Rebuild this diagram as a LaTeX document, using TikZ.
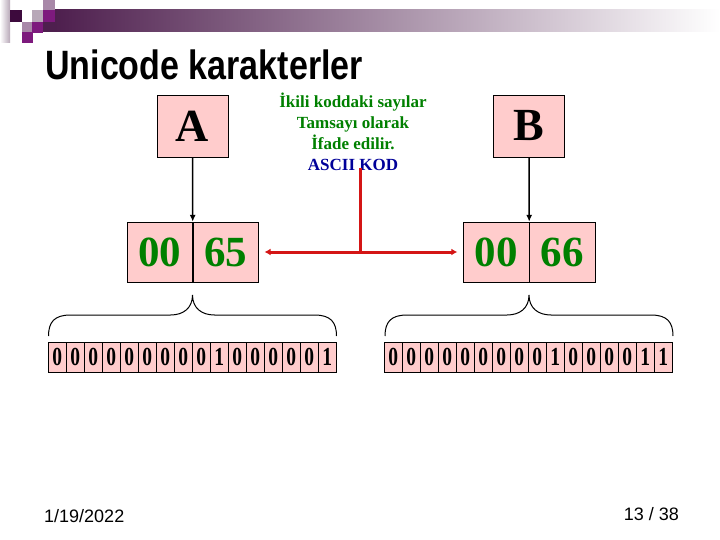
\documentclass[tikz,border=0pt]{standalone}
\usepackage{fontspec}
\setmainfont{Liberation Serif}
\newfontfamily\slidefont{Liberation Sans}
\usetikzlibrary{arrows.meta, positioning}
\definecolor{charfill}{HTML}{FFCCCC}
\definecolor{codegreen}{HTML}{008000}
\definecolor{codeblue}{HTML}{000099}
\definecolor{pointerred}{HTML}{D41515}
\definecolor{bardark}{HTML}{4E1F4E}
\definecolor{squaredark}{HTML}{3D0A3D}
\definecolor{squaremagenta}{HTML}{7D1A7D}
\definecolor{squaremauve}{HTML}{A888A8}
\definecolor{squaregrey}{HTML}{B8A8B8}

\begin{document}
\begin{tikzpicture}[
        x=1pt, y=-1pt,
        charbox/.style={
            draw,
            fill=charfill,
            minimum width=71pt,
            minimum height=62pt,
            inner sep=0pt,
            font=\fontsize{46}{46}\selectfont\bfseries
        },
        halfbox/.style={
            draw,
            fill=charfill,
            minimum width=65.5pt,
            minimum height=60pt,
            inner sep=0pt,
            text=codegreen,
            font=\fontsize{43}{43}\selectfont\bfseries
        },
        bitcell/.style={
            draw,
            fill=charfill,
            minimum width=18pt,
            minimum height=30pt,
            inner sep=0pt,
            font=\fontsize{26}{26}\selectfont\bfseries
        },
        pointer/.style={
            -{Latex[length=7pt, width=6pt]},
            line width=1.5pt
        },
        redline/.style={
            draw=pointerred,
            line width=3pt
        },
        redarrow/.style={
            redline,
            -{Latex[length=6pt, width=7pt]}
        },
        bracket/.style={
            line width=1pt
        },
        note/.style={
            align=center,
            inner sep=0pt,
            text=codegreen,
            font=\fontsize{17}{21}\selectfont\bfseries
        },
        footer/.style={
            font=\slidefont\fontsize{18}{18}\selectfont
        }
    ]

        \useasboundingbox (0,0) rectangle (720,540);

        % ---------------------------------------------------------------------
        % Slide header
        % ---------------------------------------------------------------------

        \fill[left color=white, right color=squaregrey] (0,0) rectangle (10,43);
        \fill[left color=bardark, right color=white] (55,10) rectangle (720,32);
        \fill[squaremauve] (43,0) rectangle (55,10);
        \fill[squaredark] (10,10) rectangle (22,22);
        \fill[squaregrey] (32,10) rectangle (43,22);
        \fill[squaremagenta] (43,10) rectangle (55,22);
        \fill[squaremauve] (22,22) rectangle (32,32);
        \fill[squaremagenta] (32,22) rectangle (43,33);
        \fill[bardark] (43,22) rectangle (55,32);
        \fill[squaremagenta] (22,32) rectangle (33,43);

        \node[
            anchor=base west,
            inner sep=0pt,
            font=\slidefont\bfseries\fontsize{41}{41}\selectfont
        ] (title) at (45,80) {\scalebox{0.83}[1]{Unicode karakterler}};

        % ---------------------------------------------------------------------
        % Characters and their code units
        % ---------------------------------------------------------------------

        \node[charbox] (charA) at (192.5,126) {A};
        \node[charbox] (charB) at (529,126) {B};

        \node[halfbox] (lhigh) at (159.75,252) {00};
        \node[halfbox, right=0pt of lhigh] (llow) {65};

        \node[halfbox] (rhigh) at (496.25,252) {00};
        \node[halfbox, right=0pt of rhigh] (rlow) {66};

        \draw[pointer]
            (charA) -- (lhigh.north east);

        \draw[pointer]
            (charB) -- (rhigh.north east);

        % ---------------------------------------------------------------------
        % Explanation in the middle
        % ---------------------------------------------------------------------

        \node[note] (explain) at (353,132) {%
            İkili koddaki sayılar\\
            Tamsayı olarak\\
            İfade edilir.\\
            \textcolor{codeblue}{ASCII KOD}};

        \coordinate (notefoot) at (360,168);
        \coordinate (junction) at (360,252);

        \draw[redline]
            (notefoot) -- (junction);

        \draw[redarrow]
            (junction) -- ([xshift=6pt]llow.east);

        \draw[redarrow]
            (junction) -- ([xshift=-6pt]rhigh.west);

        % ---------------------------------------------------------------------
        % Bit rows with their braces
        % ---------------------------------------------------------------------

        \foreach \b [count=\i] in {0,0,0,0,0,0,0,0,0,1,0,0,0,0,0,1}
            \node[bitcell] (lbit\i) at ({57.3+18*(\i-1)},357)
                {\scalebox{0.75}[1]{\b}};

        \foreach \b [count=\i] in {0,0,0,0,0,0,0,0,0,1,0,0,0,0,1,1}
            \node[bitcell] (rbit\i) at ({393.3+18*(\i-1)},357)
                {\scalebox{0.75}[1]{\b}};

        \foreach \cx in {192.5,529}
            \draw[bracket]
                ({\cx-144},336)
                .. controls ({\cx-144},322) and ({\cx-138},315) .. ({\cx-122},315)
                -- ({\cx-22},315)
                .. controls ({\cx-9},315) and (\cx,308) .. (\cx,295)
                .. controls (\cx,308) and ({\cx+9},315) .. ({\cx+22},315)
                -- ({\cx+122},315)
                .. controls ({\cx+138},315) and ({\cx+144},322) .. ({\cx+144},336);

        % ---------------------------------------------------------------------
        % Footer
        % ---------------------------------------------------------------------

        \node[footer, anchor=base west, inner sep=0pt] (date) at (44,522) {1/19/2022};
        \node[footer, anchor=base east, inner sep=0pt] (pageno) at (679,520) {13 / 38};

    \end{tikzpicture}
\end{document}
